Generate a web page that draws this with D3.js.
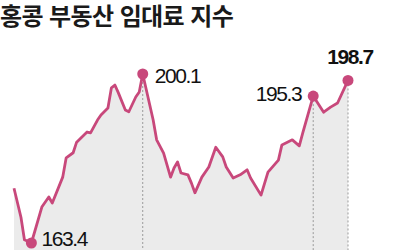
<!DOCTYPE html>
<html lang="ko">
<head>
<meta charset="utf-8">
<title>홍콩 부동산 임대료 지수</title>
<script src="https://cdn.jsdelivr.net/npm/d3@7"></script>
<style>
  body { margin: 0; background: #fff; }
  .title { font-family: "Noto Sans CJK KR", sans-serif; font-weight: 700; font-size: 24px; fill: #1a1a1a; letter-spacing: -0.6px; }
  .lbl { font-family: "Liberation Sans", Arial, sans-serif; font-size: 21px; fill: #111; letter-spacing: -1.4px; }
</style>
</head>
<body>
<script>
// month index (0 = start of series) and index value
var months = [0, 2, 3, 5, 8, 10, 11, 14, 15, 17, 18, 21, 22, 24, 25, 27, 28, 29, 30, 32, 33, 35, 36, 37,
              40, 41, 43, 45, 46, 47, 48, 50, 51, 52, 54, 56, 58, 60, 61, 63, 65, 67, 68, 71, 73, 76, 77,
              80, 82, 83, 86, 89, 91, 93, 96];
var values = [175.3, 169.0, 164.1, 163.4, 171.2, 173.4, 172.1, 177.7, 181.9, 183.0, 185.3, 187.5, 187.3,
              190.1, 191.2, 192.7, 197.1, 197.7, 196.0, 192.3, 191.9, 195.1, 196.2, 200.1,
              190.1, 185.8, 182.9, 177.7, 179.7, 181.0, 178.6, 178.2, 176.4, 174.3, 177.7, 179.9, 184.2,
              182.1, 179.9, 177.5, 178.2, 179.3, 177.5, 173.8, 178.8, 181.4, 184.7,
              185.8, 184.5, 187.3, 195.3, 191.8, 192.9, 193.8, 198.7];
// highlighted points
var marked = [
  {m: 5,  v: 163.4, text: "163.4", dx: 10,  dy: 3,   anchor: "start", bold: false, drop: false},
  {m: 37, v: 200.1, text: "200.1", dx: 12,  dy: 9,   anchor: "start", bold: false, drop: true},
  {m: 86, v: 195.3, text: "195.3", dx: -12, dy: 5,   anchor: "end",   bold: false, drop: true},
  {m: 96, v: 198.7, text: "198.7", dx: 2,   dy: -16, anchor: "middle", bold: true, drop: true}
];

var W = 400, H = 250;
var data = months.map(function(m, i) { return {m: m, v: values[i]}; });

var svg = d3.select("body").append("svg").attr("width", W).attr("height", H);

var x = d3.scaleLinear().domain([0, 96]).range([14, 348]);
var y = d3.scaleLinear().domain([163.4, 200.1]).range([243, 74]);

// grey area under the line
svg.append("path")
  .datum(data)
  .attr("d", d3.area().x(function(d) { return x(d.m); }).y0(H).y1(function(d) { return y(d.v); }))
  .attr("fill", "#ebebeb");

// dotted drop lines
svg.selectAll(".drop").data(marked.filter(function(d) { return d.drop; }))
  .enter().append("line")
  .attr("x1", function(d) { return x(d.m); }).attr("x2", function(d) { return x(d.m); })
  .attr("y1", function(d) { return y(d.v); }).attr("y2", H)
  .attr("stroke", "#9a9a9a").attr("stroke-width", 1).attr("stroke-dasharray", "2,2");

svg.append("path")
  .datum(data)
  .attr("d", d3.line().x(function(d) { return x(d.m); }).y(function(d) { return y(d.v); }))
  .attr("fill", "none")
  .attr("stroke", "#c8487b")
  .attr("stroke-width", 2.8)
  .attr("stroke-linejoin", "round");

svg.selectAll(".dot").data(marked).enter().append("circle")
  .attr("cx", function(d) { return x(d.m); })
  .attr("cy", function(d) { return y(d.v); })
  .attr("r", 5.5)
  .attr("fill", "#c8487b");

svg.selectAll(".lbl").data(marked).enter().append("text")
  .attr("class", "lbl")
  .attr("x", function(d) { return x(d.m) + d.dx; })
  .attr("y", function(d) { return y(d.v) + d.dy; })
  .attr("text-anchor", function(d) { return d.anchor; })
  .attr("font-weight", function(d) { return d.bold ? 700 : 400; })
  .text(function(d) { return d.text; });

svg.append("text").attr("class", "title").attr("x", 0).attr("y", 25).text("홍콩 부동산 임대료 지수");
</script>
</body>
</html>
